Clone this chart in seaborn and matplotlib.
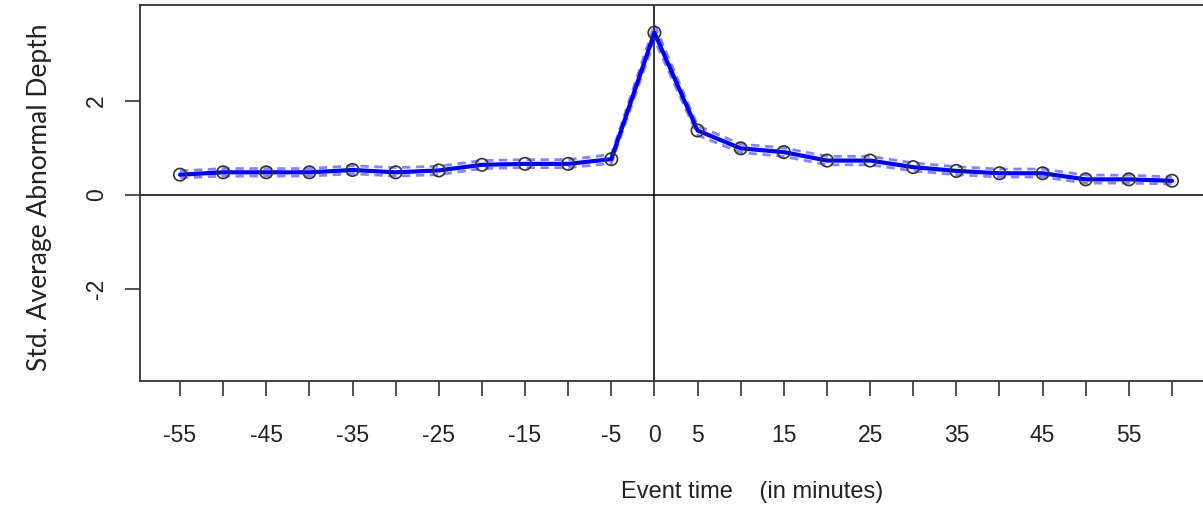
import numpy as np
import pandas as pd
import matplotlib
matplotlib.use("Agg")
import matplotlib.pyplot as plt
import seaborn as sns

# ---- data ----
event_time = [-55, -50, -45, -40, -35, -30, -25, -20, -15, -10, -5, 0,
              5, 10, 15, 20, 25, 30, 35, 40, 45, 50, 55, 60]
mean_depth = [0.43, 0.48, 0.48, 0.48, 0.53, 0.48, 0.52, 0.64, 0.66, 0.66, 0.76, 3.45,
              1.37, 0.99, 0.91, 0.73, 0.73, 0.59, 0.51, 0.46, 0.46, 0.33, 0.33, 0.30]
upper_band = [0.51, 0.56, 0.56, 0.56, 0.62, 0.58, 0.61, 0.73, 0.75, 0.75, 0.86, 3.62,
              1.47, 1.08, 1.00, 0.82, 0.82, 0.68, 0.60, 0.55, 0.55, 0.42, 0.42, 0.38]
lower_band = [0.36, 0.40, 0.40, 0.40, 0.45, 0.40, 0.43, 0.56, 0.58, 0.58, 0.67, 3.30,
              1.27, 0.90, 0.82, 0.64, 0.64, 0.51, 0.43, 0.38, 0.38, 0.25, 0.25, 0.23]
xtick_positions = list(range(-55, 61, 5))
xtick_labels = ["-55", "", "-45", "", "-35", "", "-25", "", "-15", "", "-5", "0",
                "5", "", "15", "", "25", "", "35", "", "45", "", "55", ""]
ytick_positions = [-2, 0, 2]
ytick_labels = ["-2", "0", "2"]

df = pd.DataFrame({"t": event_time, "m": mean_depth,
                   "hi": upper_band, "lo": lower_band})

sns.set_theme(style="white")
plt.rcParams["font.family"] = ["Liberation Sans", "DejaVu Sans"]

fig = plt.figure(figsize=(12.03, 5.05), dpi=100)
W, H = 1203, 505
ax = fig.add_axes([140 / W, (H - 381) / H, (1203 - 140) / W, (381 - 5) / H])

px = 8.626  # pixels per minute
ax.set_xlim(-55 - 40 / px, 60 + 31 / px)
ax.set_ylim(-3.96, 4.04)

ax.axhline(0, color="black", lw=1.1, zorder=1)
ax.axvline(0, color="black", lw=1.1, zorder=1)

for col in ["hi", "lo"]:
    sns.lineplot(data=df, x="t", y=col, ax=ax, color="#3333ff", alpha=0.6,
                 lw=2.0, linestyle=(0, (3, 2)), zorder=2)
sns.lineplot(data=df, x="t", y="m", ax=ax, color="#0000ff", lw=3.0, zorder=3)
sns.scatterplot(data=df, x="t", y="m", ax=ax, marker="o", s=80,
                facecolor="none", edgecolor="#333333", linewidth=1.2, zorder=4)

for s in ["left", "top", "bottom"]:
    ax.spines[s].set_color("#333333")
    ax.spines[s].set_linewidth(1.3)
ax.spines["right"].set_visible(False)

ax.set_xticks(xtick_positions)
ax.set_xticklabels(xtick_labels, fontsize=16.5, color="#222222")
ax.set_yticks(ytick_positions)
ax.set_yticklabels(ytick_labels, fontsize=16.5, color="#222222", rotation=90, va="center")
ax.tick_params(axis="x", direction="out", length=11, width=1.2, color="#333333", pad=20, bottom=True)
ax.tick_params(axis="y", direction="out", length=11, width=1.2, color="#333333", pad=12, left=True)

ax.set_xlabel("")
ax.set_ylabel("")
fig.text(752 / W, 1 - 492 / H, "Event time    (in minutes)", ha="center", va="center",
         fontsize=17, color="#222222")
fig.text(40 / W, 1 - 197 / H, "Std. Average Abnormal Depth", ha="center", va="center",
         rotation=90, fontsize=19, color="#222222", family=["Lato", "DejaVu Sans"])

fig.savefig("out.png", dpi=100)
